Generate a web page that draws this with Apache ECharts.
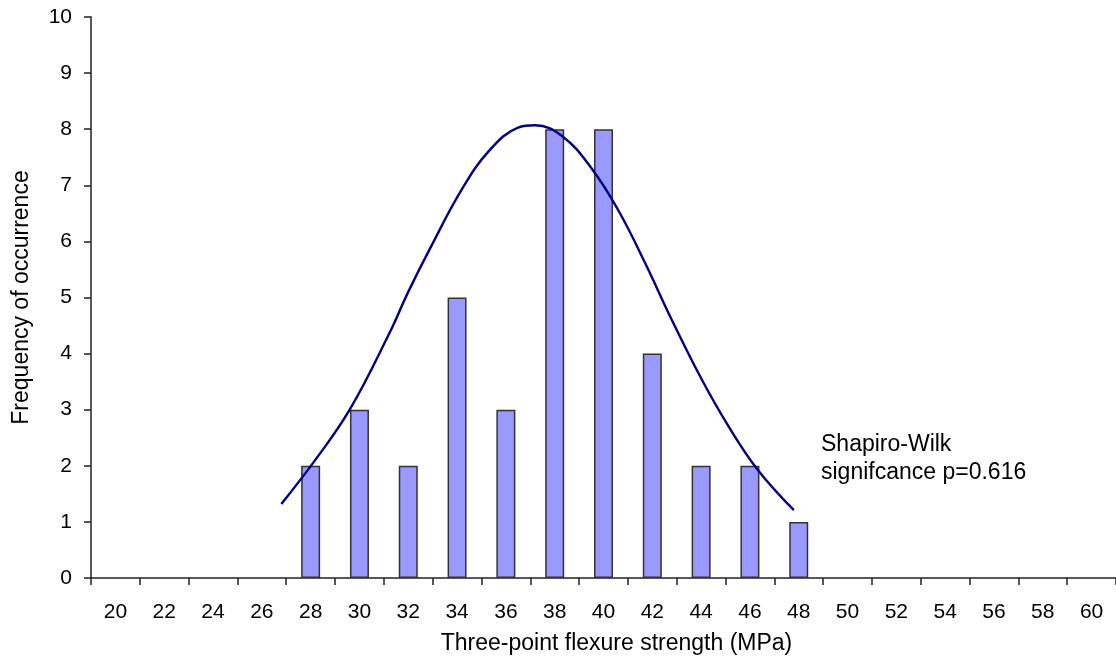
<!DOCTYPE html>
<html>
<head>
<meta charset="utf-8">
<title>Three-point flexure strength histogram</title>
<script src="https://cdn.jsdelivr.net/npm/echarts@6/dist/echarts.min.js"></script>
<style>
  html, body { margin: 0; padding: 0; background: #fff; }
  #chart { width: 1116px; height: 668px; }
</style>
</head>
<body>
<div id="chart"></div>
<script>
// strength classes (MPa) on the x axis
const strengthBins = ['20', '22', '24', '26', '28', '30', '32', '34', '36', '38', '40',
  '42', '44', '46', '48', '50', '52', '54', '56', '58', '60']
// frequency of each class (null = empty class)
const frequency = [null, null, null, null, 2, 3, 2, 5, 3, 8, 8,
  4, 2, 2, 1, null, null, null, null, null, null]
// fitted normal curve: [strength, frequency]
const curveX = [26.8, 28.2, 29.6, 31.2, 32.0, 32.9, 34.2, 35.3, 36.5, 37.2,
  38.3, 39.5, 40.6, 41.7, 42.8, 44.0, 45.1, 46.3, 47.8]
const curveY = [1.32, 2.11, 3.0, 4.34, 5.10, 5.88, 6.93, 7.61, 8.03, 8.07,
  7.88, 7.31, 6.56, 5.62, 4.60, 3.56, 2.72, 1.94, 1.21]
const yTicks = [0, 10, 1] // min, max, step
const noteLines = ['Shapiro-Wilk', 'signifcance p=0.616']

const curveData = curveX.map((x, i) => [x, curveY[i]])

const chartDom = document.getElementById('chart')
const myChart = echarts.init(chartDom, null, { renderer: 'canvas' })
const font = 'Arial, "Liberation Sans", sans-serif'

const option = {
  animation: false,
  backgroundColor: '#fff',
  textStyle: { fontFamily: font, color: '#000' },
  grid: { left: 91, right: -3, top: 17, bottom: 90 },
  xAxis: [
    {
      type: 'category',
      data: strengthBins,
      boundaryGap: true,
      name: 'Three-point flexure strength (MPa)',
      nameLocation: 'middle',
      nameGap: 54,
      nameTextStyle: { fontSize: 23, color: '#000', fontFamily: font, padding: [0, 0, 0, 26] },
      axisLine: { lineStyle: { color: '#222', width: 1.5 } },
      axisTick: { show: true, length: 7, lineStyle: { color: '#222', width: 1.5 } },
      axisLabel: { fontSize: 21, color: '#000', margin: 24, fontFamily: font, interval: 0 },
      splitLine: { show: false }
    },
    {
      // hidden value axis so the curve can sit between class centres
      type: 'value',
      min: 19,
      max: 61,
      show: false
    }
  ],
  yAxis: {
    type: 'value',
    min: yTicks[0],
    max: yTicks[1],
    interval: yTicks[2],
    name: 'Frequency of occurrence',
    nameLocation: 'middle',
    nameGap: 58,
    nameTextStyle: { fontSize: 23, color: '#000', fontFamily: font },
    axisLine: { show: true, lineStyle: { color: '#222', width: 1.5 } },
    axisTick: { show: true, length: 7, lineStyle: { color: '#222', width: 1.5 } },
    axisLabel: { fontSize: 21, color: '#000', margin: 19, fontFamily: font },
    splitLine: { show: false }
  },
  series: [
    {
      name: 'Frequency',
      type: 'bar',
      xAxisIndex: 0,
      data: frequency,
      barWidth: 19,
      itemStyle: { color: '#9999ff', borderColor: '#333', borderWidth: 1.5 }
    },
    {
      name: 'Normal fit',
      type: 'line',
      xAxisIndex: 1,
      data: curveData,
      smooth: 0.4,
      symbol: 'none',
      lineStyle: { color: '#000080', width: 2.4 },
      z: 5
    }
  ],
  graphic: [
    {
      type: 'text',
      left: 821,
      top: 431,
      style: {
        text: noteLines.join('\n'),
        font: '23px ' + font,
        lineHeight: 28,
        fill: '#000'
      }
    }
  ]
}

option && myChart.setOption(option)
</script>
</body>
</html>
